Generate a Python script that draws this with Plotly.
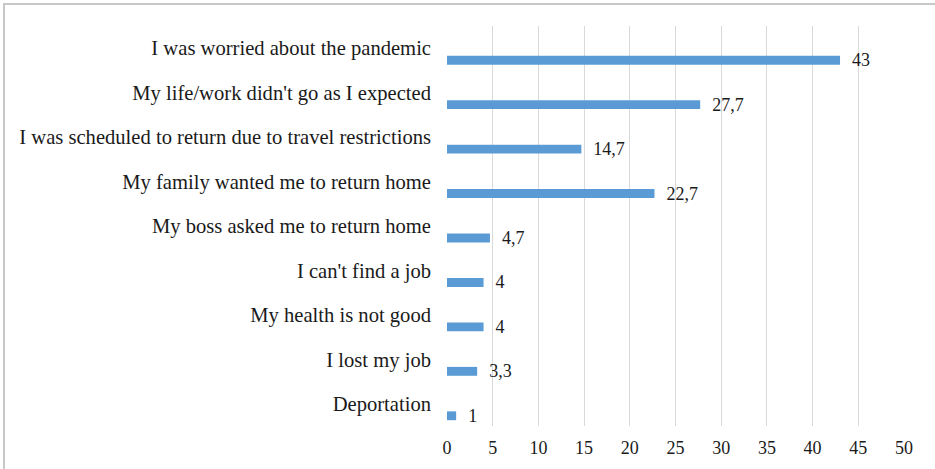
import plotly.graph_objects as go

categories = [
    "I was worried about the pandemic",
    "My life/work didn't go as I expected",
    "I was scheduled to return due to travel restrictions",
    "My family wanted me to return home",
    "My boss asked me to return home",
    "I can't find a job",
    "My health is not good",
    "I lost my job",
    "Deportation",
]
values = [43, 27.7, 14.7, 22.7, 4.7, 4, 4, 3.3, 1]
x_ticks = [0, 5, 10, 15, 20, 25, 30, 35, 40, 45, 50]

W, H = 935, 469
L, R, T, B = 447, 31, 26, 43
pw, ph = W - L - R, H - T - B
SERIF = "Liberation Serif"

fig = go.Figure(go.Bar(
    y=categories, x=values, orientation="h",
    marker=dict(color="#5b9bd5", line=dict(width=0)),
    width=0.2, offset=0.17,
    texttemplate="  %{x}", textposition="outside", cliponaxis=False,
    constraintext="none",
    textfont=dict(family=SERIF, size=18, color="#1a1a1a"),
))

fig.update_layout(
    width=W, height=H,
    margin=dict(l=L, r=R, t=T, b=B),
    paper_bgcolor="white", plot_bgcolor="white",
    separators=", ",
    showlegend=False,
    font=dict(family=SERIF, size=16, color="#1a1a1a"),
    xaxis=dict(range=[0, 50], tickvals=x_ticks, showgrid=True, gridcolor="#d9d9d9",
               gridwidth=1, zeroline=False, showline=False,
               ticks="", ticklabelstandoff=9,
               tickfont=dict(family=SERIF, size=18, color="#1a1a1a")),
    yaxis=dict(categoryorder="array", categoryarray=categories, autorange="reversed",
               showgrid=False, zeroline=False, showline=False, ticks="",
               ticklabelstandoff=15,
               tickfont=dict(family=SERIF, size=20.6, color="#1a1a1a")),
    shapes=[dict(type="rect", xref="paper", yref="paper",
                 x0=(4 - L) / pw, x1=(W + 8 - L) / pw,
                 y0=(T + ph - (H + 8)) / ph, y1=(T + ph - 4) / ph,
                 line=dict(color="#c8c8c8", width=2), layer="below")],
)

fig.write_html("out.html", config={"displayModeBar": False},
               post_script="document.body.style.margin='0';")
